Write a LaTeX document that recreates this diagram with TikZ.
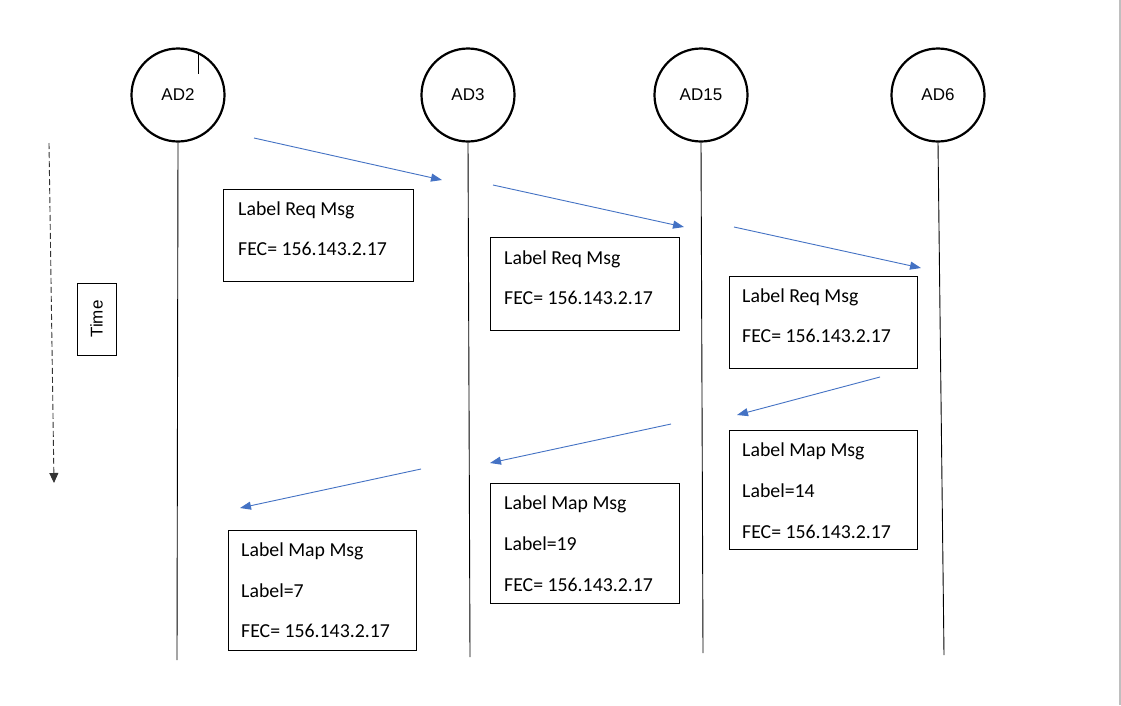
\documentclass[tikz,border=0pt]{standalone}
\usepackage{fontspec}
\setmainfont{Carlito}
\newfontfamily\arialf{Liberation Sans}
\usetikzlibrary{arrows.meta}
\definecolor{msgblue}{HTML}{4472C4}
\begin{document}
\begin{tikzpicture}[x=1pt,y=-1pt,
  adnode/.style={circle,draw=black,line width=2.2pt,minimum size=93pt,inner sep=0pt,font=\arialf\fontsize{17}{20}\selectfont},
  life/.style={draw=black,line width=0.9pt},
  msg/.style={draw=msgblue,line width=0.9pt,-{Triangle[length=11pt,width=8pt]}},
  msgbox/.style={draw=black,line width=0.9pt},
  txt/.style={anchor=base west,inner sep=0pt,font=\fontsize{19.8}{22}\selectfont}]
\useasboundingbox (0,0) rectangle (1121,705);
\fill[white] (0,0) rectangle (1121,705);
\draw[black!25,line width=1.5pt] (1120,0) -- (1120,705);
% nodes
\node[adnode] (ad2) at (178,95) {AD2};
\node[adnode] (ad3) at (468,95) {AD3};
\node[adnode] (ad15) at (701,95) {AD15};
\node[adnode] (ad6) at (938,95) {AD6};
% tick
\coordinate (t1) at (198,52); \coordinate (t2) at (198,74);
\draw[black,line width=0.8pt] (t1) -- (t2);
% lifelines
\coordinate (e2) at (177,660);
\coordinate (e3) at (470,657);
\coordinate (e15) at (703,653);
\coordinate (e6) at (944,655);
\draw[life] (ad2.south) -- (e2);
\draw[life] (ad3.south) -- (e3);
\draw[life] (ad15.south) -- (e15);
\draw[life] (ad6.south) -- (e6);
% arrows
\coordinate (a1s) at (254,138); \coordinate (a1e) at (442,180);
\coordinate (a2s) at (493,185); \coordinate (a2e) at (684,227);
\coordinate (a3s) at (734,227); \coordinate (a3e) at (921,268);
\coordinate (a4s) at (880,377); \coordinate (a4e) at (737,415);
\coordinate (a5s) at (671,424); \coordinate (a5e) at (490,463);
\coordinate (a6s) at (421,469); \coordinate (a6e) at (240,508);
\draw[msg] (a1s) -- (a1e);
\draw[msg] (a2s) -- (a2e);
\draw[msg] (a3s) -- (a3e);
\draw[msg] (a4s) -- (a4e);
\draw[msg] (a5s) -- (a5e);
\draw[msg] (a6s) -- (a6e);
% boxes
\draw[msgbox] (223,189) rectangle (413,281);
\node[txt] (b1a) at (238,215) {Label Req Msg};
\node[txt] (b1b) at (238,255) {FEC= 156.143.2.17};
\draw[msgbox] (490,237) rectangle (679,330);
\node[txt] (b2a) at (504,264) {Label Req Msg};
\node[txt] (b2b) at (504,304) {FEC= 156.143.2.17};
\draw[msgbox] (729,276) rectangle (917,368);
\node[txt] (b3a) at (742,302) {Label Req Msg};
\node[txt] (b3b) at (742,342) {FEC= 156.143.2.17};
\draw[msgbox] (729,430) rectangle (917,549);
\node[txt] (b4a) at (742,456) {Label Map Msg};
\node[txt] (b4b) at (742,497) {Label=14};
\node[txt] (b4c) at (742,538) {FEC= 156.143.2.17};
\draw[msgbox] (490,483) rectangle (679,603);
\node[txt] (b5a) at (504,509) {Label Map Msg};
\node[txt] (b5b) at (504,550) {Label=19};
\node[txt] (b5c) at (504,591) {FEC= 156.143.2.17};
\draw[msgbox] (228,530) rectangle (416,650);
\node[txt] (b6a) at (241,556) {Label Map Msg};
\node[txt] (b6b) at (241,597) {Label=7};
\node[txt] (b6c) at (241,637) {FEC= 156.143.2.17};
% time
\node[draw=black,line width=0.9pt,minimum width=39pt,minimum height=72pt,inner sep=0pt] (timebox) at (96.5,319) {};
\node[rotate=90,font=\arialf\fontsize{17}{20}\selectfont,inner sep=0pt] (timetxt) at (timebox.center) {Time};
\coordinate (ts) at (49,143); \coordinate (te) at (54,483);
\draw[black!80,line width=0.9pt,dash pattern=on 6pt off 3pt,-{Triangle[length=10pt,width=9pt]}] (ts) -- (te);
\end{tikzpicture}
\end{document}
